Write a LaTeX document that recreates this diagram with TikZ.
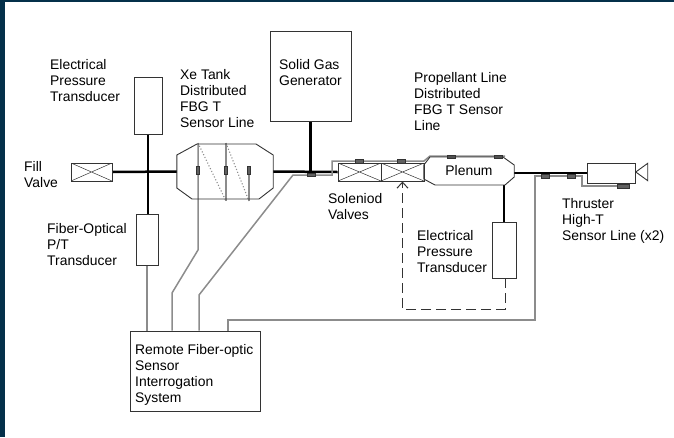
\documentclass[tikz,border=0pt]{standalone}
\usepackage{fontspec}
\setmainfont{Liberation Sans}
\usetikzlibrary{shapes.geometric,arrows.meta,backgrounds}
\definecolor{edgecol}{HTML}{04304A}
\definecolor{fibercol}{HTML}{8C8C8C}
\definecolor{sensorcol}{HTML}{606060}
\definecolor{boxcol}{HTML}{333333}
\begin{document}
\begin{tikzpicture}[x=1pt,y=-1pt,
    label node/.style={font=\fontsize{13.9}{16}\selectfont,align=left,anchor=west,inner sep=0pt,text=black},
    box node/.style={draw=boxcol,line width=0.9pt,inner sep=0pt,minimum width=#1},
    valve node/.style={draw=boxcol,line width=0.9pt,inner sep=0pt,minimum width=#1,minimum height=18pt,
        path picture={\draw[boxcol,line width=0.5pt] (path picture bounding box.north west) -- (path picture bounding box.south east)
            (path picture bounding box.south west) -- (path picture bounding box.north east);}},
    hull/.style={draw=boxcol,line width=0.9pt},
    sensor node/.style={draw=boxcol,fill=sensorcol,line width=0.3pt,inner sep=0pt,minimum width=8pt,minimum height=3.5pt},
    tall sensor/.style={sensor node,minimum width=3pt,minimum height=8pt},
    pipe/.style={black,line width=2.5pt},
    fiber/.style={fibercol,line width=1.5pt}]

    \useasboundingbox (0,0) rectangle (674,437);

    % Define vertices
    \node[valve node=41pt] (fill) at (91.5,172) {};
    \node[box node=28pt,minimum height=57pt] (ptop) at (148,105.5) {};
    \node[box node=22pt,minimum height=51pt] (pbot) at (147,239.5) {};
    \node[inner sep=0pt,minimum width=96pt,minimum height=55pt] (tank) at (225,171.5) {};
    \node[box node=81pt,minimum height=90pt] (solid) at (310.5,76) {};
    \node[valve node=43pt] (valvea) at (359.5,172) {};
    \node[valve node=43pt] (valveb) at (402.5,172) {};
    \node[inner sep=0pt,minimum width=90pt,minimum height=28pt,font=\fontsize{13.9}{16}\selectfont] (plenum) at (469,171) {Plenum};
    \node[box node=24pt,minimum height=56pt] (ptwo) at (504,250) {};
    \node[box node=48pt,minimum height=20pt] (thruster) at (611,173) {};
    \node[isosceles triangle,isosceles triangle apex angle=72,draw=boxcol,line width=0.9pt,inner sep=0pt,minimum height=12pt,shape border rotate=180,anchor=apex] (nozzle) at (635,172) {};
    \node[box node=130pt,minimum height=80pt] (remote) at (195,371) {};

    % Sensors on the lines
    \node[sensor node] (sgas) at (311,174.5) {};
    \node[sensor node] (sva) at (359,161) {};
    \node[sensor node] (svb) at (401.5,161) {};
    \node[sensor node] (spa) at (451.5,156.5) {};
    \node[sensor node] (spb) at (498,156.5) {};
    \node[sensor node] (sla) at (545,176) {};
    \node[sensor node] (slb) at (571.5,176) {};
    \node[sensor node,minimum width=12pt] (slc) at (623,186) {};
    \node[tall sensor] (sta) at (198,170.5) {};
    \node[tall sensor] (stb) at (226,170.5) {};
    \node[tall sensor] (stc) at (249,170.5) {};

    % Tank and plenum walls
    \draw[hull] (tank.west |- 0,155) -- (197,144) -- (256,144) -- (tank.east |- 0,155) -- (tank.east |- 0,188)
        -- (259,199) -- (192,199) -- (tank.west |- 0,188) -- cycle;
    \draw[hull] (plenum.west |- 0,165) -- (430,157) -- (503,157) -- (plenum.east |- 0,165) -- (plenum.east |- 0,177)
        -- (505,185) -- (435,185) -- (plenum.west |- 0,179) -- cycle;

    % Fiber bends
    \coordinate (ta) at (198,143);
    \coordinate (tb) at (226,143);
    \coordinate (ba) at (198,250);
    \coordinate (bb) at (226,201);
    \coordinate (bc) at (249,201);
    \coordinate (ka) at (172,293);
    \coordinate (kb) at (199,295);
    \coordinate (ga) at (293,175);
    \coordinate (gb) at (332,175);
    \coordinate (gc) at (332,161);
    \coordinate (gd) at (424,161);
    \coordinate (ge) at (430,156);
    \coordinate (gf) at (505,156);
    \coordinate (ra) at (228,331);
    \coordinate (rb) at (228,320);
    \coordinate (rc) at (535,320);
    \coordinate (rd) at (535,176);
    \coordinate (re) at (582,176);
    \coordinate (rf) at (582,186);
    \coordinate (rg) at (630,186);
    \coordinate (dasha) at (505,278);
    \coordinate (dashb) at (505,309);
    \coordinate (dash) at (402.5,309);

    % Draw edges
    \begin{pgfonlayer}{background}
        \fill[edgecol] (0,0) rectangle (5,437);
        \fill[edgecol] (0,0) rectangle (674,2);
        \path[pipe]
            (fill.east) edge (tank.west)
            (tank.east) edge (valvea.west)
            (plenum.east |- thruster.west) edge (thruster.west)
            (ptop.south) edge (ptop.south |- pbot.north)
            (solid.south) edge (solid.south |- tank.east)
            (ptwo.north) edge (ptwo.north |- plenum.south);
        \path[fiber]
            (pbot.south) edge (pbot.south |- remote.north)
            (tb) edge (bb)
            (stc.south) edge (bc);
        \draw[fiber] (ka |- remote.north) -- (ka) -- (ba) -- (ta);
        \draw[fiber] (kb |- remote.north) -- (kb) -- (ga) -- (gb) -- (gc) -- (gd) -- (ge) -- (gf);
        \draw[fiber] (ra) -- (rb) -- (rc) -- (rd) -- (re) -- (rf) -- (rg);
        \path[fibercol,line width=1.1pt,dotted]
            (ta) edge (bb)
            (tb) edge (bc);
        \draw[boxcol,line width=1pt,dash pattern=on 10pt off 5pt,-{Straight Barb[length=6pt,width=11pt]}]
            (dasha) -- (dashb) -- (dash) -- (valveb.south);
    \end{pgfonlayer}

    % Labels
    \node[label node] (lpa) at (50,80.5) {Electrical\\Pressure\\Transducer};
    \node[label node] (ltk) at (180,98.5) {Xe Tank\\Distributed\\FBG T\\Sensor Line};
    \node[label node] (lsg) at (279,72.5) {Solid Gas\\Generator};
    \node[label node] (lpr) at (414,102) {Propellant Line\\Distributed\\FBG T Sensor\\Line};
    \node[label node] (lfv) at (24,174.5) {Fill\\Valve};
    \node[label node] (lfo) at (47,244.5) {Fiber-Optical\\P/T\\Transducer};
    \node[label node] (lsv) at (328,207) {Soleniod\\Valves};
    \node[label node] (lpb) at (417,251.5) {Electrical\\Pressure\\Transducer};
    \node[label node] (lth) at (562,220.5) {Thruster\\High-T\\Sensor Line (x2)};
    \node[label node] (lrm) at (135,374.5) {Remote Fiber-optic\\Sensor\\Interrogation\\System};

\end{tikzpicture}
\end{document}
